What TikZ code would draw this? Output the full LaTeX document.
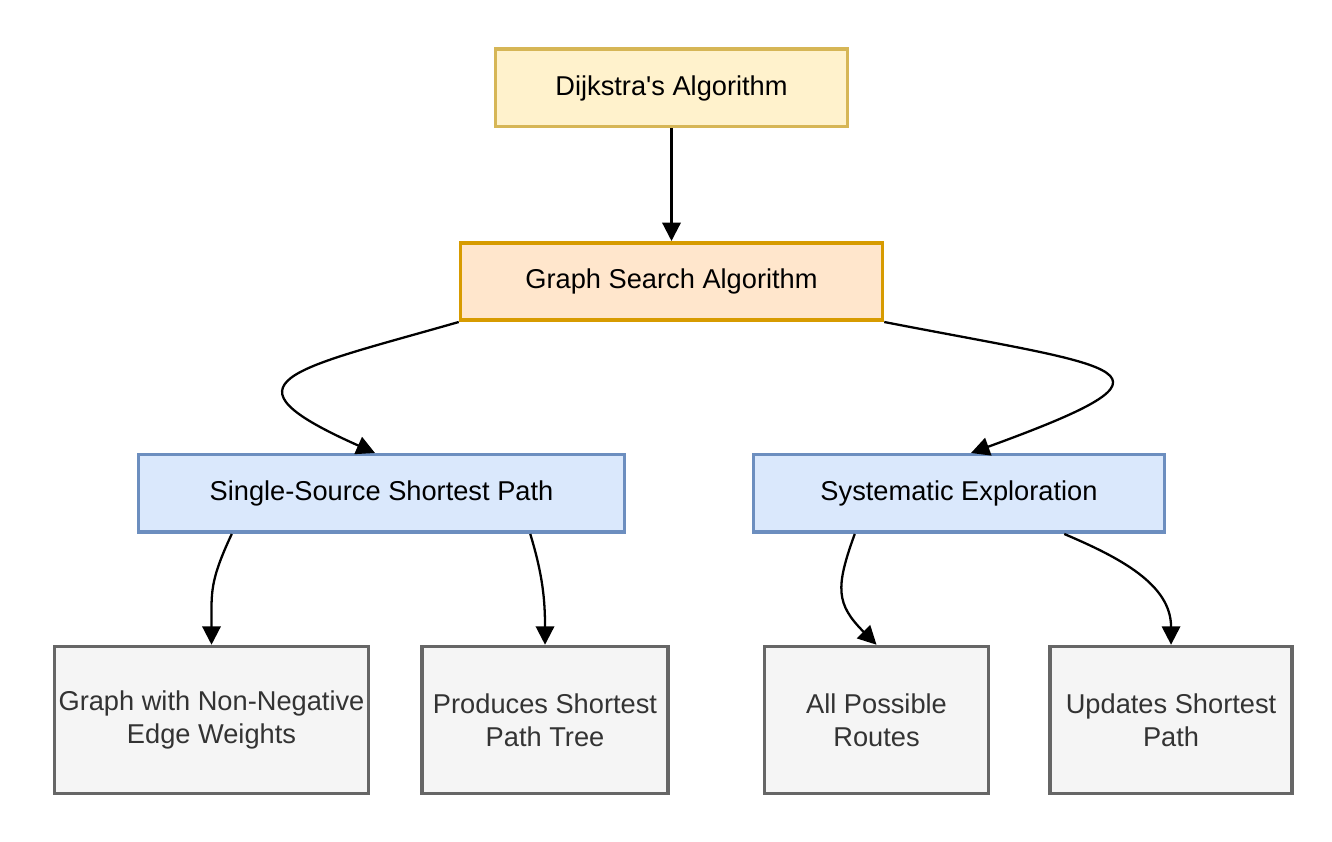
\documentclass[tikz,border=0pt]{standalone}
\usepackage{fontspec}
\setmainfont{Liberation Sans}
\usetikzlibrary{arrows.meta, positioning}

\definecolor{rootfill}{HTML}{FFF2CC}
\definecolor{rootdraw}{HTML}{D6B656}
\definecolor{searchfill}{HTML}{FFE6CC}
\definecolor{searchdraw}{HTML}{D79B00}
\definecolor{topicfill}{HTML}{DAE8FC}
\definecolor{topicdraw}{HTML}{6C8EBF}
\definecolor{leaffill}{HTML}{F5F5F5}
\definecolor{leafdraw}{HTML}{666666}
\definecolor{leaftext}{HTML}{333333}

\begin{document}
\begin{tikzpicture}[
            box/.style={draw, line width=2pt, minimum height=1.55cm, inner sep=0pt, align=center, font=\fontsize{15.5}{19}\selectfont},
            root box/.style={box, fill=rootfill, draw=rootdraw},
            search box/.style={box, fill=searchfill, draw=searchdraw},
            topic box/.style={box, fill=topicfill, draw=topicdraw},
            leaf box/.style={box, fill=leaffill, draw=leafdraw, text=leaftext, minimum height=2.94cm},
            link/.style={-{Triangle[length=10.5pt, width=10.5pt]}, line width=1.3pt}]

            \useasboundingbox (0,0) rectangle (26.64,16.84);

            % Top of the hierarchy
            \node[root box, minimum width=7.04cm] (dijkstra) at (13.43,15.08) {Dijkstra\textquotesingle s Algorithm};
            \node[search box, minimum width=8.44cm, below=2.25cm of dijkstra] (search) {Graph Search Algorithm};

            % Second level
            \node[topic box, minimum width=9.72cm] (sssp) at (7.63,6.97) {Single-Source Shortest Path};
            \node[topic box, minimum width=8.22cm] (explore) at (19.18,6.97) {Systematic Exploration};

            % Leaves
            \node[leaf box, minimum width=6.28cm] (weights) at (4.23,2.44) {Graph with Non-Negative\\Edge Weights};
            \node[leaf box, minimum width=4.92cm, right=1.0cm of weights] (tree) {Produces Shortest\\Path Tree};
            \node[leaf box, minimum width=4.48cm, right=1.86cm of tree] (routes) {All Possible\\Routes};
            \node[leaf box, minimum width=4.84cm, right=1.16cm of routes] (update) {Updates Shortest\\Path};

            % Connectors
            \draw[link] (dijkstra) -- (search);
            \draw[link] (search.south west) to[out=196, in=156, looseness=2.9] ([xshift=-0.13cm]sssp.north);
            \draw[link] (search.south east) to[out=-11, in=20, looseness=4.0] ([xshift=0.24cm]explore.north);
            \draw[link] ([xshift=1.9cm]sssp.south west) to[out=245, in=90, looseness=1.2] (weights.north);
            \draw[link] ([xshift=-1.92cm]sssp.south east) to[out=-73, in=90, looseness=1] (tree.north);
            \draw[link] ([xshift=2.06cm]explore.south west) to[out=250, in=135, looseness=1.3] (routes.north);
            \draw[link] ([xshift=-2.04cm]explore.south east) to[out=-23, in=90, looseness=1] (update.north);
        \end{tikzpicture}
\end{document}
